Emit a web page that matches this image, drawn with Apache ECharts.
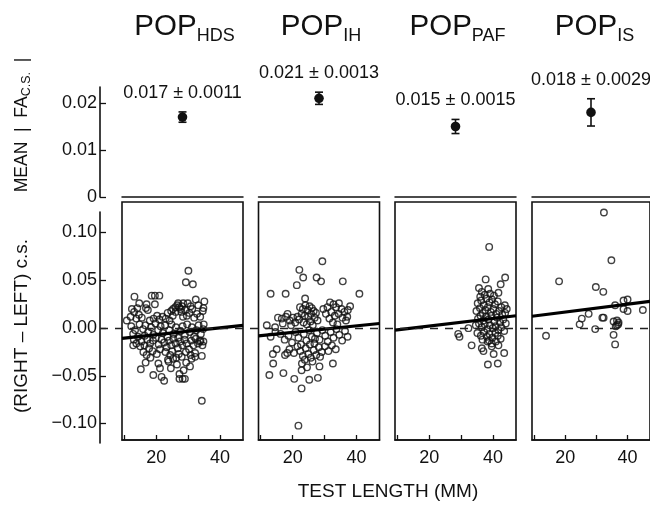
<!DOCTYPE html>
<html>
<head>
<meta charset="utf-8">
<script src="https://cdn.jsdelivr.net/npm/echarts@6/dist/echarts.min.js"></script>
<style>html,body{margin:0;padding:0;background:#fff}#chart{width:650px;height:505px}</style>
</head>
<body>
<div id="chart"></div>
<script>
// populations and mean |FA c.s.| with SE (top row)
const populations = ['HDS', 'IH', 'PAF', 'IS'];
const meanFA = [0.017, 0.021, 0.015, 0.018];
const seFA = [0.0011, 0.0013, 0.0015, 0.0029];

// regression line ends (value at left and right edge of each panel)
const xRange = [9.3, 47.2];
const fitStart = [-0.0107, -0.008, -0.002, 0.0125];
const fitEnd = [0.003, 0.0049, 0.013, 0.028];

// tick values
const xTicks = [10, 20, 30, 40];
const xTickLabels = [20, 40];
const topTicks = [0, 0.01, 0.02];
const bottomTicks = [-0.1, -0.05, 0, 0.05, 0.1];

// (right - left) c.s. against test length, one list per population
const ptsHDS = [
  [13.2,0.033],[14.7,0.026],[17.0,0.025],[18.6,0.034],[19.6,0.034],[21.0,0.034],[19.6,0.025],[16.8,0.021],[17.4,0.019],[12.4,0.020],
  [13.1,0.017],[14.1,0.021],[12.0,0.012],[10.8,0.008],[13.8,0.010],[14.6,0.014],[15.5,0.011],
  [30.1,0.060],[29.3,0.048],[31.5,0.046],[32.4,0.030],[35.1,0.028],[28.5,0.026],[33.2,0.024],[34.8,0.021],[26.0,0.022],
  [26.6,0.024],[27.2,0.022],[27.7,0.020],[28.1,0.023],[25.3,0.020],[24.7,0.018],[26.1,0.017],[27.9,0.017],[29.1,0.019],
  [30.4,0.016],[31.3,0.020],[29.6,0.013],[28.4,0.012],[25.2,0.013],[23.6,0.016],[32.8,0.015],[34.6,0.018],[30.8,0.023],
  [29.9,0.026],[26.9,0.026],[31.9,0.011],[33.8,0.012],[34.9,0.004],[22.0,0.012],[21.0,0.009],[19.2,0.010],[18.0,0.008],
  [20.3,0.013],[23.0,0.010],[24.2,0.008],
  [12.2,0.002],[13.4,-0.002],[12.8,-0.006],[14.8,0.004],[15.9,-0.001],[16.6,0.003],[17.5,-0.004],[18.4,0.001],[19.1,-0.007],
  [19.8,0.005],[20.6,-0.002],[21.4,0.002],[22.1,-0.005],[22.8,0.003],[23.5,-0.009],[24.1,-0.002],[24.8,0.004],[25.5,-0.006],
  [26.2,0.001],[26.9,-0.010],[27.6,-0.003],[28.3,0.002],[29.0,-0.007],[29.7,0.004],[30.5,-0.004],[31.2,0.001],[31.9,-0.009],
  [32.6,-0.002],[33.3,0.003],[34.0,-0.006],[34.7,-0.001],
  [13.0,-0.012],[14.3,-0.009],[15.4,-0.014],[16.4,-0.008],[17.2,-0.012],[18.1,-0.016],[19.0,-0.013],[19.9,-0.010],[20.8,-0.017],
  [21.7,-0.012],[22.5,-0.015],[23.3,-0.020],[24.0,-0.013],[24.7,-0.018],[25.4,-0.011],[26.1,-0.016],[26.8,-0.021],[27.5,-0.014],
  [28.2,-0.018],[28.9,-0.012],[29.6,-0.016],[30.3,-0.022],[31.0,-0.013],[31.7,-0.018],[32.4,-0.011],[33.1,-0.016],[33.9,-0.013],
  [34.5,-0.018],[21.2,-0.022],[22.9,-0.025],[25.0,-0.024],[27.1,-0.027],[29.3,-0.025],[28.0,-0.030],[26.3,-0.031],[24.4,-0.028],
  [23.7,-0.033],[20.2,-0.027],[18.9,-0.024],[17.8,-0.021],[16.3,-0.018],[30.8,-0.028],[32.2,-0.026],
  [12.8,-0.018],[13.8,-0.016],[15.0,-0.019],[16.0,-0.025],[16.7,-0.036],[15.2,-0.043],[19.1,-0.049],[20.7,-0.037],[21.2,-0.042],
  [21.7,-0.051],[22.5,-0.055],[27.3,-0.048],[28.3,-0.053],[27.3,-0.053],[29.0,-0.053],[30.6,-0.040],[31.1,-0.032],[32.2,-0.030],
  [34.3,-0.029],[34.3,-0.076],[33.7,-0.014],[34.8,-0.014],[23.9,-0.035],[25.3,-0.032],[26.5,-0.038],[24.6,-0.042],[29.4,-0.036],
  [28.6,-0.044],[18.2,-0.031],[17.0,-0.028]
];
const ptsIH = [
  [29.3,0.070],[22.1,0.061],[23.3,0.053],[27.5,0.053],[28.9,0.049],[21.3,0.045],[35.7,0.049],[13.1,0.036],[17.8,0.036],[40.9,0.036],
  [23.9,0.031],[22.3,0.022],[23.2,0.020],[24.0,0.024],[24.7,0.019],[25.3,0.023],[26.0,0.021],[26.6,0.018],[27.3,0.016],[22.8,0.015],
  [23.8,0.013],[24.9,0.012],[25.8,0.015],[26.9,0.011],[27.8,0.008],[22.0,0.009],[23.4,0.006],[24.4,0.004],[25.6,0.007],[26.3,0.003],
  [21.5,0.012],[31.7,0.027],[32.8,0.025],[33.6,0.022],[34.5,0.026],[35.3,0.020],[36.2,0.017],[37.3,0.019],[38.0,0.023],[32.1,0.017],
  [33.2,0.013],[34.4,0.015],[35.6,0.011],[36.7,0.008],[31.5,0.010],[32.6,0.006],[34.0,0.004],[37.1,0.012],[30.4,0.015],[29.6,0.020],
  [30.9,0.022],[15.4,0.011],[16.6,0.010],[17.9,0.012],[19.1,0.008],[20.1,0.011],[11.9,0.003],[14.5,0.001],[16.9,0.005],[19.5,0.003],
  [20.8,0.006],[18.4,0.015],
  [13.1,-0.009],[14.6,-0.004],[16.2,-0.006],[17.5,-0.012],[18.7,-0.008],[19.8,-0.015],[20.9,-0.004],[21.8,-0.010],[22.6,-0.017],
  [23.5,-0.006],[24.3,-0.013],[25.2,-0.002],[26.0,-0.009],[26.8,-0.016],[27.6,-0.005],[28.4,-0.012],[29.3,-0.002],[30.2,-0.008],
  [31.0,-0.014],[31.9,-0.004],[32.8,-0.010],[33.7,-0.001],[34.6,-0.007],[35.5,-0.013],[36.4,-0.003],[37.2,-0.009],
  [19.0,-0.022],[20.4,-0.026],[21.5,-0.019],[22.4,-0.024],[23.2,-0.029],[24.1,-0.021],[24.9,-0.027],[25.7,-0.031],[26.6,-0.023],
  [27.4,-0.028],[28.2,-0.020],[29.1,-0.025],[30.1,-0.019],[31.2,-0.024],[32.3,-0.018],[33.5,-0.022],[25.4,-0.017],[27.0,-0.011],
  [28.6,-0.030],[23.8,-0.033],
  [15.0,-0.022],[13.8,-0.027],[17.6,-0.028],[18.3,-0.026],[13.9,-0.037],[12.7,-0.049],[17.1,-0.047],[20.5,-0.053],[22.8,-0.063],
  [22.8,-0.044],[22.9,-0.037],[25.2,-0.054],[27.9,-0.052],[28.4,-0.040],[32.6,-0.037],[21.8,-0.102],[24.5,-0.041],[26.2,-0.035]
];
const ptsPAF = [
  [38.8,0.085],[37.7,0.051],[43.8,0.053],[35.6,0.042],[38.5,0.041],[42.4,0.046],[41.7,0.037],[36.5,0.038],
  [35.2,0.026],[36.3,0.029],[37.1,0.024],[38.0,0.031],[38.9,0.027],[39.7,0.030],[40.6,0.025],[41.5,0.028],[42.6,0.022],[43.7,0.024],
  [44.3,0.020],[34.8,0.018],[35.9,0.021],[36.8,0.016],[37.6,0.019],[38.4,0.022],[39.3,0.017],[40.1,0.020],[41.0,0.015],[41.9,0.018],
  [42.9,0.014],[43.8,0.016],[35.3,0.010],[36.1,0.013],[37.0,0.008],[37.8,0.012],[38.6,0.009],[39.5,0.013],[40.4,0.007],[41.3,0.011],
  [42.2,0.006],[43.2,0.009],[44.0,0.005],[34.6,0.003],[35.6,0.005],[36.5,0.001],[37.4,0.004],[38.2,-0.001],[39.0,0.003],[39.9,0.000],
  [40.8,0.002],[41.7,-0.002],[42.6,0.001],[43.5,-0.003],[35.1,-0.005],[36.2,-0.008],[37.2,-0.004],[38.1,-0.009],[38.9,-0.006],
  [39.8,-0.010],[40.7,-0.005],[41.5,-0.008],[42.4,-0.011],[36.7,-0.012],[38.3,-0.014],[38.8,-0.013],[39.6,-0.016],[40.9,-0.014],
  [32.3,0.000],[29.1,-0.006],[29.5,-0.009],[33.3,-0.018],[36.5,-0.021],[39.6,-0.019],[41.7,-0.018],[43.5,-0.026],[38.4,-0.038],
  [41.5,-0.037],[37.0,-0.024],[40.2,-0.027],[36.0,0.033],[40.3,0.034],[39.1,0.036],[37.4,0.035]
];
const ptsIS = [
  [32.4,0.121],[34.8,0.071],[18.0,0.049],[29.8,0.043],[32.2,0.038],[38.7,0.029],[40.0,0.030],[36.0,0.024],[38.7,0.020],[40.0,0.018],
  [44.9,0.019],[27.5,0.015],[25.3,0.010],[24.6,0.004],[31.9,0.011],[32.3,0.011],[35.5,0.007],[36.6,0.008],[37.1,0.006],[36.6,0.003],
  [29.6,-0.001],[35.5,-0.007],[36.0,-0.017],[13.8,-0.008],[36.2,0.002],[37.0,0.004]
];
const scatterSets = [ptsHDS, ptsIH, ptsPAF, ptsIS];

const FONT = '"Liberation Sans", Arial, Helvetica, sans-serif';
const INK = '#111';
const panelLeft = [122, 258.5, 395, 532];
const panelWidth = 121;

const chart = echarts.init(document.getElementById('chart'), null, { renderer: 'canvas' });

const grids = [], xAxes = [], yAxes = [], series = [];

// top row: mean |FA| per population
populations.forEach((p, i) => {
  grids.push({ left: panelLeft[i], top: 87, width: panelWidth, height: 110 });
  xAxes.push({
    gridIndex: i, type: 'value', min: 0, max: 1,
    axisLine: { show: true, onZero: false, lineStyle: { color: INK, width: 1.5 } },
    axisTick: { show: false }, axisLabel: { show: false }, splitLine: { show: false }
  });
  yAxes.push({ gridIndex: i, type: 'value', min: 0, max: 0.0234, show: false });
  series.push({
    type: 'custom', xAxisIndex: i, yAxisIndex: i, clip: false, silent: true,
    data: [[0.5, meanFA[i], seFA[i]]],
    renderItem: (params, api) => {
      const x = api.value(0), m = api.value(1), s = api.value(2);
      const c = api.coord([x, m]);
      const hi = api.coord([x, m + s]);
      const lo = api.coord([x, m - s]);
      const st = { stroke: INK, lineWidth: 1.6 };
      return {
        type: 'group',
        children: [
          { type: 'line', shape: { x1: c[0], y1: hi[1], x2: c[0], y2: lo[1] }, style: st },
          { type: 'line', shape: { x1: c[0] - 4, y1: hi[1], x2: c[0] + 4, y2: hi[1] }, style: st },
          { type: 'line', shape: { x1: c[0] - 4, y1: lo[1], x2: c[0] + 4, y2: lo[1] }, style: st },
          { type: 'circle', shape: { cx: c[0], cy: c[1], r: 4.8 }, style: { fill: INK } },
          {
            type: 'text', x: c[0], y: hi[1] - 19,
            style: {
              text: m.toFixed(3) + ' \u00b1 ' + s, fontSize: 18, fontFamily: FONT,
              fill: INK, align: 'center', verticalAlign: 'middle'
            }
          }
        ]
      };
    }
  });
});

// bottom row: scatter + regression
populations.forEach((p, i) => {
  const g = 4 + i;
  grids.push({
    left: panelLeft[i], top: 202, width: panelWidth, height: 238,
    show: true, borderColor: INK, borderWidth: 1.6, backgroundColor: 'transparent'
  });
  xAxes.push({
    gridIndex: g, type: 'value', min: xRange[0], max: xRange[1],
    axisLine: { show: true, onZero: false, lineStyle: { color: INK, width: 1.6 } },
    axisTick: { show: true, inside: true, length: 5, customValues: xTicks, lineStyle: { color: INK, width: 1.3 } },
    axisLabel: { customValues: xTickLabels, fontSize: 18, fontFamily: FONT, color: INK, margin: 9 },
    splitLine: { show: false }
  });
  yAxes.push({ gridIndex: g, type: 'value', min: -0.117, max: 0.132, show: false });
  series.push({
    type: 'scatter', xAxisIndex: g, yAxisIndex: g, silent: true, z: 3,
    data: scatterSets[i], symbol: 'circle', symbolSize: 6.5,
    itemStyle: { color: 'rgba(255,255,255,0)', borderColor: INK, borderWidth: 1.4 }
  });
  series.push({
    type: 'line', xAxisIndex: g, yAxisIndex: g, silent: true, z: 4,
    data: [[xRange[0], fitStart[i]], [xRange[1], fitEnd[i]]],
    showSymbol: false, lineStyle: { color: '#000', width: 3.2 }
  });
});

// shared left axes
grids.push({ left: 100, top: 87, width: 554, height: 110 });
xAxes.push({ gridIndex: 8, type: 'value', min: 0, max: 1, show: false });
yAxes.push({
  gridIndex: 8, type: 'value', min: 0, max: 0.0234,
  axisLine: { show: true, lineStyle: { color: INK, width: 1.6 } },
  axisTick: { show: true, inside: true, length: 6, customValues: topTicks, lineStyle: { color: INK, width: 1.3 } },
  axisLabel: {
    customValues: topTicks, fontSize: 18, fontFamily: FONT, color: INK, margin: 3,
    formatter: v => (v === 0 ? '0' : v.toFixed(2))
  },
  splitLine: { show: false }
});

grids.push({ left: 100, top: 212, width: 554, height: 231 });
xAxes.push({ gridIndex: 9, type: 'value', min: 0, max: 1, show: false });
yAxes.push({
  gridIndex: 9, type: 'value', min: -0.1204, max: 0.1215,
  axisLine: { show: true, lineStyle: { color: INK, width: 1.6 } },
  axisTick: { show: true, inside: true, length: 6, customValues: bottomTicks, lineStyle: { color: INK, width: 1.3 } },
  axisLabel: {
    customValues: bottomTicks, fontSize: 18, fontFamily: FONT, color: INK, margin: 3,
    formatter: v => (v < 0 ? '\u2212' + Math.abs(v).toFixed(2) : v.toFixed(2))
  },
  splitLine: { show: false }
});
series.push({
  type: 'line', xAxisIndex: 9, yAxisIndex: 9, data: [], silent: true, z: 1,
  markLine: {
    silent: true, symbol: 'none', label: { show: false },
    lineStyle: { color: '#222', width: 1.3, type: [8, 7] },
    data: [{ yAxis: 0 }]
  }
});

// titles and axis names
const panelCenter = panelLeft.map(l => l + panelWidth / 2);
const graphics = populations.map((p, i) => ({
  type: 'text', x: panelCenter[i] + 2, y: 27,
  style: {
    text: '{m|POP}{s|' + p + '}', align: 'center', verticalAlign: 'middle',
    rich: {
      m: { fontSize: 29.5, fontFamily: FONT, fill: INK },
      s: { fontSize: 18, fontFamily: FONT, fill: INK, padding: [18, 0, 0, 0] }
    }
  }
}));
graphics.push({
  type: 'text', x: 22, y: 125, rotation: Math.PI / 2,
  style: {
    text: '{n|MEAN  |  FA}{s|C.S.}{n|  |}', align: 'center', verticalAlign: 'middle',
    rich: {
      n: { fontSize: 17.5, fontFamily: FONT, fill: INK },
      s: { fontSize: 12.5, fontFamily: FONT, fill: INK, padding: [10, 0, 0, 0] }
    }
  }
});
graphics.push({
  type: 'text', x: 22, y: 326, rotation: Math.PI / 2,
  style: { text: '(RIGHT \u2013 LEFT) c.s.', fontSize: 19, fontFamily: FONT, fill: INK, align: 'center', verticalAlign: 'middle' }
});
graphics.push({
  type: 'text', x: 388, y: 492,
  style: { text: 'TEST LENGTH (MM)', fontSize: 19, fontFamily: FONT, fill: INK, align: 'center', verticalAlign: 'middle' }
});

chart.setOption({
  animation: false,
  backgroundColor: '#fff',
  grid: grids,
  xAxis: xAxes,
  yAxis: yAxes,
  series: series,
  graphic: graphics
});
</script>
</body>
</html>
